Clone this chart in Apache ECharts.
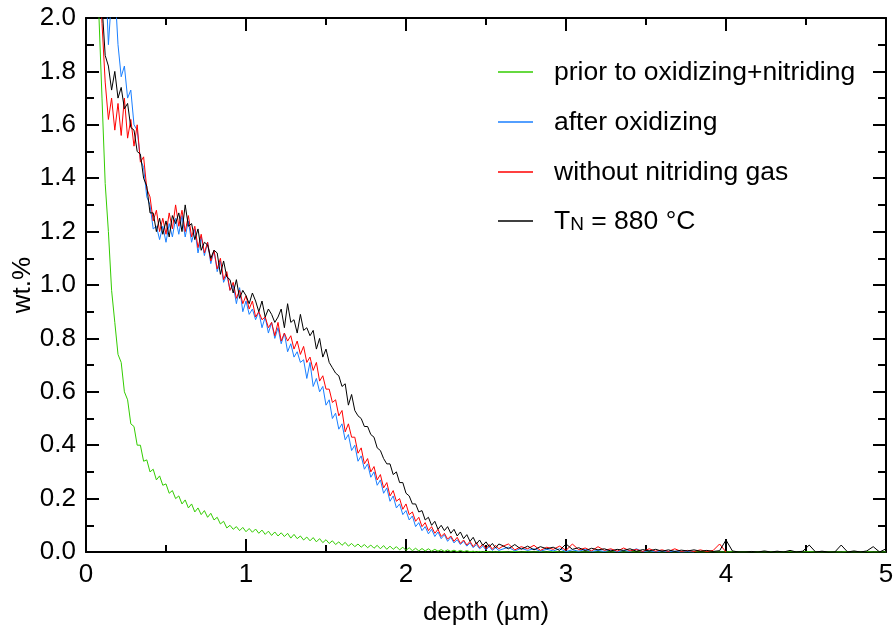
<!DOCTYPE html>
<html><head><meta charset="utf-8">
<script src="https://cdn.jsdelivr.net/npm/echarts@6/dist/echarts.min.js"></script>
<style>html,body{margin:0;padding:0;background:#fff}#c{width:893px;height:642px}</style>
</head><body><div id="c"></div>
<script>
// Sampling grids (depth, µm): fine grid 0.08..2.58 step 0.02, tail grid 2.60..5.00 step 0.04
const fineStart = 0.08, fineStep = 0.02;
const tailStart = 2.60, tailStep = 0.04;

const seriesNames = ['prior to oxidizing+nitriding', 'after oxidizing', 'without nitriding gas', 'TN = 880 °C'];
const seriesColors = ['#33cc00', '#1a7fff', '#ff0000', '#000000'];

const xTickLabels = ['0', '1', '2', '3', '4', '5'];
const yTickLabels = ['0.0', '0.2', '0.4', '0.6', '0.8', '1.0', '1.2', '1.4', '1.6', '1.8', '2.0'];

const greenFine = [
  2.02, 1.70, 1.38, 1.20, 0.98, 0.86, 0.74, 0.71, 0.60, 0.57,
  0.48, 0.47, 0.40, 0.40, 0.34, 0.345, 0.30, 0.31, 0.27, 0.285,
  0.25, 0.255, 0.22, 0.23, 0.20, 0.21, 0.18, 0.195, 0.165, 0.18,
  0.15, 0.165, 0.14, 0.155, 0.13, 0.145, 0.12, 0.13, 0.105, 0.115,
  0.09, 0.10, 0.085, 0.095, 0.08, 0.092, 0.076, 0.088, 0.074, 0.086,
  0.07, 0.082, 0.066, 0.078, 0.062, 0.075, 0.06, 0.072, 0.058, 0.07,
  0.052, 0.066, 0.05, 0.06, 0.045, 0.056, 0.042, 0.054, 0.038, 0.05,
  0.035, 0.046, 0.032, 0.042, 0.028, 0.038, 0.025, 0.036, 0.022, 0.032,
  0.02, 0.03, 0.018, 0.028, 0.016, 0.026, 0.014, 0.025, 0.012, 0.024,
  0.01, 0.022, 0.01, 0.02, 0.008, 0.018, 0.006, 0.016, 0.005, 0.014,
  0.004, 0.013, 0.004, 0.012, 0.003, 0.01, 0.003, 0.009, 0.002, 0.008,
  0.002, 0.007, 0.001, 0.006, 0.001, 0.005, 0.001, 0.003, 0, 0.002,
  0, 0.002, 0, 0.001, 0, 0.001
];
const greenTail = [
  0.001, 0, 0.002, 0, 0.001, 0, 0.001, 0, 0.002, 0,
  0.001, 0, 0.001, 0, 0.001, 0, 0.001, 0, 0.001, 0,
  0.001, 0, 0.001, 0, 0.001, 0, 0.001, 0, 0.001, 0,
  0.001, 0, 0, 0.001, 0, 0, 0.001, 0, 0, 0.001,
  0, 0, 0.001, 0, 0, 0.001, 0, 0, 0.001, 0,
  0, 0.001, 0, 0, 0.001, 0, 0, 0.001, 0, 0,
  0
];

const blueFine = [
  2.5, 2.4, 2.2, 1.90, 2.08, 2.12, 1.90, 1.78, 1.82, 1.70,
  1.73, 1.60, 1.58, 1.47, 1.44, 1.33, 1.30, 1.21, 1.22, 1.17,
  1.22, 1.16, 1.23, 1.18, 1.25, 1.19, 1.26, 1.18, 1.24, 1.16,
  1.21, 1.12, 1.18, 1.11, 1.16, 1.08, 1.13, 1.05, 1.09, 1.01,
  1.04, 0.98, 1.00, 0.93, 0.99, 0.90, 0.94, 0.89, 0.91, 0.87,
  0.90, 0.84, 0.88, 0.82, 0.86, 0.80, 0.84, 0.78, 0.82, 0.75,
  0.78, 0.73, 0.75, 0.71, 0.72, 0.65, 0.71, 0.62, 0.65, 0.60,
  0.62, 0.55, 0.57, 0.50, 0.52, 0.46, 0.48, 0.42, 0.44, 0.38,
  0.40, 0.34, 0.36, 0.31, 0.33, 0.28, 0.30, 0.25, 0.27, 0.22,
  0.24, 0.19, 0.21, 0.165, 0.18, 0.14, 0.155, 0.12, 0.135, 0.095,
  0.11, 0.08, 0.095, 0.068, 0.085, 0.058, 0.075, 0.05, 0.065, 0.04,
  0.055, 0.034, 0.046, 0.028, 0.04, 0.022, 0.034, 0.016, 0.028, 0.012,
  0.022, 0.008, 0.02, 0.006, 0.016, 0.006
];
const blueTail = [
  0.01, 0.018, 0.004, 0.014, 0.006, 0.012, 0.003, 0.01, 0.004, 0.012,
  0.002, 0.008, 0.003, 0.01, 0.002, 0.006, 0.002, 0.008, 0.001, 0.006,
  0.002, 0.012, 0.001, 0.005, 0.001, 0.004, 0.001, 0.003, 0, 0.002,
  0
];

const redFine = [
  2.25, 1.98, 1.76, 1.62, 1.70, 1.58, 1.68, 1.56, 1.70, 1.55,
  1.62, 1.52, 1.60, 1.46, 1.48, 1.36, 1.33, 1.24, 1.28, 1.20,
  1.25, 1.19, 1.27, 1.21, 1.30, 1.22, 1.28, 1.20, 1.26, 1.18,
  1.22, 1.14, 1.19, 1.12, 1.16, 1.09, 1.13, 1.06, 1.10, 1.02,
  1.05, 0.98, 1.01, 0.95, 0.98, 0.93, 0.96, 0.91, 0.94, 0.88,
  0.90, 0.87, 0.88, 0.84, 0.86, 0.81, 0.86, 0.79, 0.82, 0.79,
  0.81, 0.76, 0.79, 0.74, 0.77, 0.71, 0.73, 0.68, 0.71, 0.64,
  0.66, 0.61, 0.61, 0.56, 0.57, 0.51, 0.53, 0.45, 0.48, 0.43,
  0.43, 0.37, 0.39, 0.33, 0.35, 0.30, 0.32, 0.27, 0.29, 0.24,
  0.26, 0.21, 0.23, 0.19, 0.20, 0.16, 0.18, 0.14, 0.15, 0.115,
  0.13, 0.095, 0.11, 0.08, 0.095, 0.07, 0.085, 0.058, 0.07, 0.048,
  0.06, 0.04, 0.055, 0.032, 0.045, 0.026, 0.04, 0.02, 0.035, 0.016,
  0.03, 0.012, 0.028, 0.01, 0.025, 0.012
];
const redTail = [
  0.02, 0.03, 0.008, 0.02, 0.012, 0.025, 0.006, 0.018, 0.01, 0.022,
  0.006, 0.03, 0.008, 0.015, 0.004, 0.02, 0.006, 0.012, 0.003, 0.015,
  0.004, 0.01, 0.002, 0.012, 0.003, 0.008, 0.002, 0.012, 0.002, 0.006,
  0.002, 0.008, 0.002, 0.006, 0.03, 0
];

const blackFine = [
  2.30, 2.05, 1.86, 1.82, 1.73, 1.80, 1.70, 1.74, 1.66, 1.68,
  1.59, 1.58, 1.50, 1.49, 1.40, 1.37, 1.27, 1.27, 1.20, 1.25,
  1.19, 1.24, 1.18, 1.26, 1.23, 1.27, 1.20, 1.30, 1.22, 1.23,
  1.17, 1.21, 1.13, 1.16, 1.15, 1.10, 1.13, 1.12, 1.04, 1.09,
  1.03, 1.02, 0.97, 1.02, 0.95, 0.98, 0.96, 0.93, 0.97, 0.94,
  0.90, 0.94, 0.88, 0.91, 0.89, 0.86, 0.88, 0.91, 0.84, 0.93,
  0.86, 0.87, 0.82, 0.89, 0.83, 0.84, 0.81, 0.83, 0.76, 0.80,
  0.73, 0.76, 0.71, 0.69, 0.67, 0.66, 0.62, 0.63, 0.55, 0.59,
  0.53, 0.51, 0.50, 0.47, 0.47, 0.44, 0.43, 0.39, 0.38, 0.35,
  0.33, 0.33, 0.29, 0.30, 0.26, 0.26, 0.22, 0.21, 0.18, 0.18,
  0.15, 0.155, 0.12, 0.13, 0.10, 0.115, 0.085, 0.10, 0.08, 0.095,
  0.07, 0.085, 0.06, 0.075, 0.05, 0.065, 0.04, 0.055, 0.03, 0.045,
  0.025, 0.038, 0.02, 0.032, 0.015, 0.03
];
const blackTail = [
  0.025, 0.012, 0.028, 0.01, 0.022, 0.008, 0.02, 0.012, 0.018, 0.006,
  0.03, 0.01, 0.016, 0.005, 0.014, 0.008, 0.012, 0.004, 0.01, 0.006,
  0.012, 0.003, 0.009, 0.004, 0.01, 0.003, 0.008, 0.002, 0.007, 0.004,
  0.008, 0.003, 0.006, 0.002, 0.005, 0.045, 0.004, 0, 0, 0.002,
  0, 0.004, 0, 0.003, 0, 0.006, 0, 0.003, 0.026, 0,
  0.003, 0, 0, 0.026, 0, 0.004, 0, 0.004, 0.02, 0,
  0.012
];

function toPairs(fine, tail) {
  const out = [];
  fine.forEach((v, i) => out.push([+(fineStart + fineStep * i).toFixed(2), v]));
  tail.forEach((v, i) => out.push([+(tailStart + tailStep * i).toFixed(2), v]));
  return out;
}
const seriesData = [
  toPairs(greenFine, greenTail),
  toPairs(blueFine, blueTail),
  toPairs(redFine, redTail),
  toPairs(blackFine, blackTail)
];

const FONT = "'Liberation Sans', Arial, Helvetica, sans-serif";
const axisLineStyle = { color: '#000', width: 2 };

function xAx(pos, labels) {
  return {
    type: 'value', min: 0, max: 5, interval: 1, position: pos,
    name: labels ? 'depth (µm)' : '', nameLocation: 'middle', nameGap: 48, nameMoveOverlap: false,
    nameTextStyle: { fontSize: 26, color: '#000', fontFamily: FONT },
    axisLine: { show: true, onZero: false, lineStyle: axisLineStyle },
    axisTick: { show: true, inside: true, length: 13, lineStyle: axisLineStyle },
    minorTick: { show: true, splitNumber: 2, length: 7, lineStyle: axisLineStyle },
    axisLabel: { show: labels, fontSize: 26, color: '#000', margin: 10, fontFamily: FONT,
      showMinLabel: true, showMaxLabel: true,
      formatter: v => xTickLabels[Math.round(v)] },
    splitLine: { show: false }, minorSplitLine: { show: false }
  };
}
function yAx(pos, labels) {
  return {
    type: 'value', min: 0, max: 2, interval: 0.2, position: pos,
    name: labels ? 'wt.%' : '', nameLocation: 'middle', nameGap: 50, nameMoveOverlap: false,
    nameTextStyle: { fontSize: 26, color: '#000', fontFamily: FONT },
    axisLine: { show: true, onZero: false, lineStyle: axisLineStyle },
    axisTick: { show: true, inside: true, length: 13, lineStyle: axisLineStyle },
    minorTick: { show: true, splitNumber: 2, length: 8, lineStyle: axisLineStyle },
    axisLabel: { show: labels, fontSize: 26, color: '#000', margin: 10, fontFamily: FONT,
      showMinLabel: true, showMaxLabel: true,
      formatter: v => yTickLabels[Math.round(v * 5)] },
    splitLine: { show: false }, minorSplitLine: { show: false }
  };
}

const richText = {
  t: { fontSize: 26.5, lineHeight: 26, color: '#000', fontFamily: FONT, verticalAlign: 'top' },
  s: { fontSize: 19, lineHeight: 16, color: '#000', fontFamily: FONT, verticalAlign: 'bottom', padding: [13, 0, 0, 0] }
};
function legendBase(top, names) {
  return {
    orient: 'vertical', left: 498, top: top, padding: 0,
    icon: 'rect', itemWidth: 35, itemHeight: 1.5, itemGap: 23,
    data: names,
    formatter: function (name) {
      if (name === seriesNames[3]) return '{t|T}{s|N}{t| = 880 °C}';
      return '{t|' + name + '}';
    },
    textStyle: { padding: [0, 0, 0, 16], rich: richText }
  };
}

const chart = echarts.init(document.getElementById('c'), null, { renderer: 'canvas' });
chart.setOption({
  animation: false,
  backgroundColor: '#fff',
  grid: { left: 86, right: 7, top: 18, bottom: 90, containLabel: false, outerBoundsMode: 'none' },
  xAxis: [xAx('bottom', true), xAx('top', false)],
  yAxis: [yAx('left', true), yAx('right', false)],
  legend: [
    legendBase(59, seriesNames.slice(0, 3)),
    legendBase(202, seriesNames.slice(3))
  ],
  series: seriesNames.map((n, i) => ({
    name: n, type: 'line', xAxisIndex: 0, yAxisIndex: 0,
    data: seriesData[i], showSymbol: false, symbol: 'none',
    color: seriesColors[i],
    lineStyle: { color: seriesColors[i], width: 1 },
    clip: true, z: 2 + i
  }))
});
</script>
</body></html>
